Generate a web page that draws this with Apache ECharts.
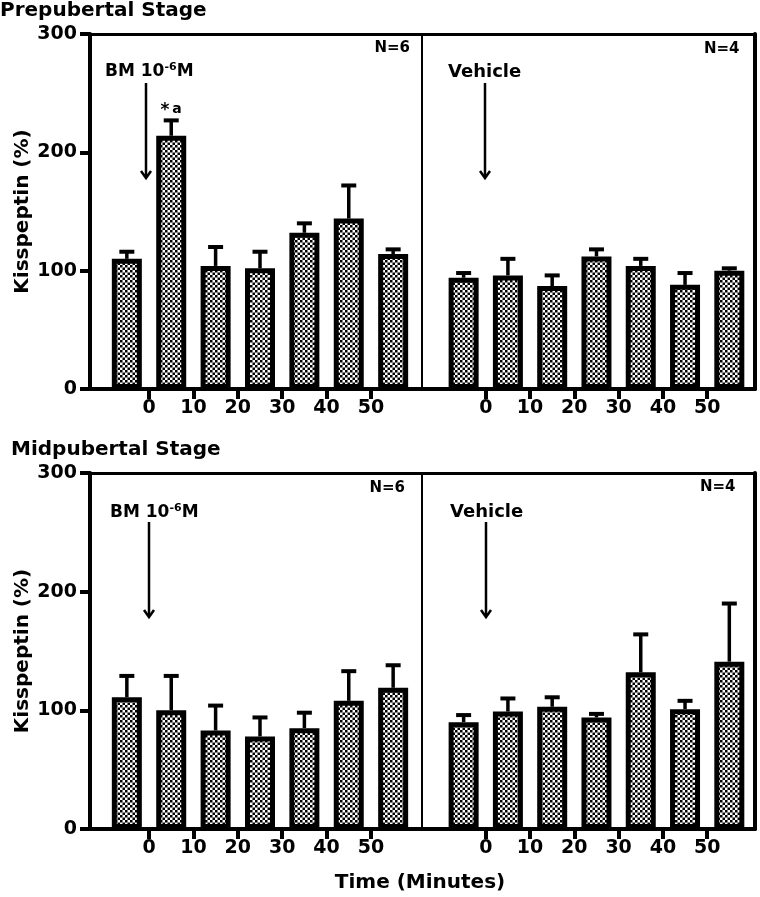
<!DOCTYPE html>
<html>
<head>
<meta charset="utf-8">
<script src="https://cdn.jsdelivr.net/npm/echarts@6/dist/echarts.min.js"></script>
<style>
html,body{margin:0;padding:0;background:#fff;}
#chart{width:760px;height:897px;}
</style>
</head>
<body>
<div id="chart"></div>
<script>
// ---- data ----
const timeTicks = [0, 10, 20, 30, 40, 50];
const barTimes = [-5, 5, 15, 25, 35, 45, 55];
const yTicks = [0, 100, 200, 300];

const prepBM = [110, 214, 104, 102, 132, 144, 114];
const prepBMErr = [6, 13, 16, 14, 8, 28, 4];
const prepVeh = [94, 96, 87, 112, 104, 88, 100];
const prepVehErr = [4, 14, 9, 6, 6, 10, 2];
const midBM = [111, 100, 83, 78, 85, 108, 119];
const midBMErr = [18, 29, 21, 16, 13, 25, 19];
const midVeh = [90, 99, 103, 94, 132, 101, 141];
const midVehErr = [6, 11, 8, 3, 32, 7, 49];

const FONT = 'DejaVu Sans';

// checkerboard fill
const checker = (function () {
  const c = document.createElement('canvas');
  c.width = 10; c.height = 10;
  const g = c.getContext('2d');
  g.fillStyle = '#fff'; g.fillRect(0, 0, 10, 10);
  g.fillStyle = '#000';
  for (let i = 0; i < 4; i++) for (let j = 0; j < 4; j++)
    if ((i + j) % 2 === 0) g.fillRect(i * 2.5, j * 2.5, 2.5, 2.5);
  return c;
})();

const grids = [
  { left: 90, right: 338, top: 34, bottom: 508 },
  { left: 422, right: 5, top: 34, bottom: 508 },
  { left: 90, right: 338, top: 473, bottom: 68 },
  { left: 422, right: 5, top: 473, bottom: 68 }
];
const xRanges = [[-13.3, 61.5], [-14.4, 60.8], [-13.3, 61.5], [-14.4, 60.8]];

const xAxes = [], yAxes = [];
grids.forEach(function (g, i) {
  xAxes.push({
    type: 'value', gridIndex: i, position: 'bottom',
    min: xRanges[i][0], max: xRanges[i][1],
    axisLine: { show: true, onZero: false, lineStyle: { color: '#000', width: 4 } },
    axisTick: { show: true, customValues: timeTicks, length: 10, lineStyle: { color: '#000', width: 4 } },
    axisLabel: { show: true, customValues: timeTicks, margin: 10, color: '#000', fontFamily: FONT, fontWeight: 'bold', fontSize: 19 },
    splitLine: { show: false }
  });
  xAxes.push({
    type: 'value', gridIndex: i, position: 'top',
    min: xRanges[i][0], max: xRanges[i][1],
    axisLine: { show: true, onZero: false, lineStyle: { color: '#000', width: 3 } },
    axisTick: { show: false }, axisLabel: { show: false }, splitLine: { show: false }
  });
  const isLeft = (i % 2 === 0);
  yAxes.push({
    type: 'value', gridIndex: i, position: 'left',
    min: 0, max: 300, interval: 100,
    axisLine: { show: isLeft, onZero: false, lineStyle: { color: '#000', width: 4 } },
    axisTick: { show: isLeft, length: 10, lineStyle: { color: '#000', width: 4 } },
    axisLabel: { show: isLeft, margin: 13, color: '#000', fontFamily: FONT, fontWeight: 'bold', fontSize: 19 },
    splitLine: { show: false },
    name: isLeft ? 'Kisspeptin (%)' : '',
    nameLocation: 'middle', nameGap: 57, nameRotate: 90,
    nameTextStyle: { color: '#000', fontFamily: FONT, fontWeight: 'bold', fontSize: 20 }
  });
  yAxes.push({
    type: 'value', gridIndex: i, position: 'right',
    min: 0, max: 300, interval: 100,
    axisLine: { show: true, onZero: false, lineStyle: { color: '#000', width: isLeft ? 2 : 4 } },
    axisTick: { show: false }, axisLabel: { show: false }, splitLine: { show: false }
  });
});

const sets = [
  [prepBM, prepBMErr], [prepVeh, prepVehErr], [midBM, midBMErr], [midVeh, midVehErr]
];

const series = [];
sets.forEach(function (s, i) {
  const vals = s[0], errs = s[1];
  series.push({
    type: 'custom', xAxisIndex: i * 2, yAxisIndex: i * 2, z: 2,
    data: barTimes.map(function (t, k) { return [t, vals[k], errs[k]]; }),
    dimensions: ['x', 'y', 'e'],
    encode: { x: 0, y: 1 },
    renderItem: function (params, api) {
      const x = api.value(0), y = api.value(1), e = api.value(2);
      const p0 = api.coord([x, y]);
      const p1 = api.coord([x, y + e]);
      return {
        type: 'group', children: [
          { type: 'line', shape: { x1: p0[0], y1: p0[1], x2: p1[0], y2: p1[1] }, style: { stroke: '#000', lineWidth: 3.5 } },
          { type: 'line', shape: { x1: p1[0] - 7.5, y1: p1[1], x2: p1[0] + 7.5, y2: p1[1] }, style: { stroke: '#000', lineWidth: 4 } }
        ]
      };
    }
  });
  series.push({
    type: 'bar', xAxisIndex: i * 2, yAxisIndex: i * 2, z: 3,
    barWidth: 30, barMaxWidth: 40,
    data: barTimes.map(function (t, k) { return [t, vals[k]]; }),
    itemStyle: { color: { image: checker, repeat: 'repeat' }, borderColor: '#000', borderWidth: 5 }
  });
});

function txt(x, y, text, size, align) {
  return { type: 'text', x: x, y: y, style: { text: text, fill: '#000', font: 'bold ' + size + 'px "' + FONT + '"', textAlign: align || 'left', textVerticalAlign: 'middle' } };
}
function bmText(x, y) {
  return {
    type: 'text', x: x, y: y,
    style: {
      text: '{n|BM 10}{s|-6}{n|M}', textVerticalAlign: 'middle',
      rich: {
        n: { fontFamily: FONT, fontWeight: 'bold', fontSize: 17, color: '#000', lineHeight: 20 },
        s: { fontFamily: FONT, fontWeight: 'bold', fontSize: 11, color: '#000', lineHeight: 20, verticalAlign: 'top' }
      }
    }
  };
}
function arrow(x, y1, y2) {
  return {
    type: 'group', children: [
      { type: 'line', shape: { x1: x, y1: y1, x2: x, y2: y2 - 1 }, style: { stroke: '#000', lineWidth: 2.5 } },
      { type: 'polyline', shape: { points: [[x - 5, y2 - 7], [x, y2], [x + 5, y2 - 7]] }, style: { stroke: '#000', lineWidth: 2.5, fill: null } }
    ]
  };
}

const graphics = [
  txt(0, 11, 'Prepubertal Stage', 20),
  txt(11, 450, 'Midpubertal Stage', 20),
  txt(410, 48, 'N=6', 15, 'right'),
  txt(405, 488, 'N=6', 15, 'right'),
  txt(704, 49, 'N=4', 15),
  txt(700, 487, 'N=4', 15),
  bmText(105, 72),
  bmText(110, 513),
  txt(448, 72, 'Vehicle', 18),
  txt(450, 512, 'Vehicle', 18),
  txt(165, 111, '*', 17, 'center'),
  txt(177, 109, 'a', 14, 'center'),
  arrow(146, 83, 178),
  arrow(485, 83, 178),
  arrow(149, 522, 617),
  arrow(486, 522, 617),
  txt(420, 883, 'Time (Minutes)', 20, 'center')
];

const chart = echarts.init(document.getElementById('chart'), null, { renderer: 'canvas' });
chart.setOption({
  animation: false,
  backgroundColor: '#fff',
  grid: grids,
  xAxis: xAxes,
  yAxis: yAxes,
  series: series,
  graphic: graphics
});
</script>
</body>
</html>
